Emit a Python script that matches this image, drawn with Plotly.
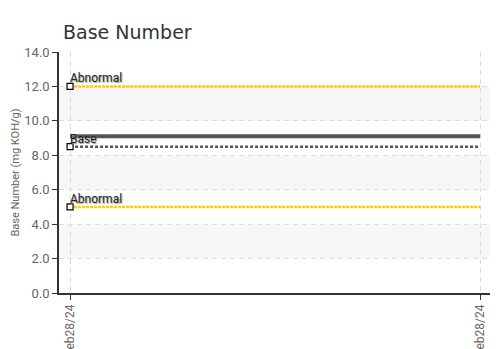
import plotly.graph_objects as go

# Data
x_vals = [0, 1]
x_labels = ["Feb28/24", "Feb28/24"]
base_number = [9.1, 9.1]
limit_names = ["Abnormal", "Base", "Abnormal"]
limit_values = [12.0, 8.5, 5.0]
limit_colors = ["#FFCC00", "#555555", "#FFCC00"]
limit_dash = ["3px,1px", "3px,2px", "3px,1px"]
y_ticks = [0, 2, 4, 6, 8, 10, 12, 14]
band_ranges = [(10, 12), (6, 8), (2, 4)]

narrow = "Roboto, Arial"

fig = go.Figure()

# alternate bands
shapes = []
for lo, hi in band_ranges:
    shapes.append(dict(type="rect", xref="paper", yref="y", x0=0, x1=1, y0=lo, y1=hi,
                       fillcolor="#F7F7F7", line=dict(width=0), layer="below"))

# limit lines
for name, v, c, d in zip(limit_names, limit_values, limit_colors, limit_dash):
    fig.add_trace(go.Scatter(x=x_vals, y=[v, v], mode="lines",
                             line=dict(color=c, width=2.5, dash=d),
                             hoverinfo="skip", showlegend=False))

# data line
fig.add_trace(go.Scatter(x=x_vals, y=base_number, mode="lines",
                         line=dict(color="#555555", width=4),
                         showlegend=False))

# markers at limit start
fig.add_trace(go.Scatter(x=[x_vals[0]] * len(limit_values), y=limit_values, mode="markers",
                         marker=dict(symbol="square", size=6, color="white",
                                     line=dict(color="black", width=1.2)),
                         showlegend=False, hoverinfo="skip"))

annotations = []
for name, v in zip(limit_names, limit_values):
    annotations.append(dict(x=x_vals[0], y=v, xref="x", yref="y", text=name,
                            showarrow=False, xanchor="left", yanchor="bottom",
                            xshift=-2, yshift=-1,
                            font=dict(family=narrow, size=12, color="#222222",
                                      shadow="1px 1px 1px #999999")))

fig.update_layout(
    width=492, height=341,
    margin=dict(l=51, r=10, t=44, b=56),
    paper_bgcolor="white", plot_bgcolor="white",
    title=dict(text="Base Number", x=55 / 492, xanchor="left", y=1 - 24 / 341, yanchor="middle",
               font=dict(family="DejaVu Sans", size=19, color="#333333")),
    shapes=shapes,
    annotations=annotations,
    xaxis=dict(range=[-0.027, 1.024], tickvals=x_vals, ticktext=x_labels,
               tickangle=-90, ticks="outside", ticklen=5, tickcolor="#333333",
               showline=True, linecolor="#333333", linewidth=1.5,
               showgrid=True, gridcolor="#DDDDDD", griddash="5px,4px", gridwidth=1,
               zeroline=False, automargin=False,
               tickfont=dict(family=narrow, size=12, color="#666666")),
    yaxis=dict(range=[0, 14], tickvals=y_ticks, tickformat=".1f",
               ticks="outside", ticklen=5, tickcolor="#333333",
               showline=True, linecolor="#333333", linewidth=1.5,
               showgrid=True, gridcolor="#DDDDDD", griddash="5px,4px", gridwidth=1,
               zeroline=False, automargin=False,
               title=dict(text="Base Number (mg KOH/g)", standoff=2,
                          font=dict(family=narrow, size=11, color="#666666")),
               tickfont=dict(family=narrow, size=13, color="#666666")),
)

fig.write_html("out.html")
